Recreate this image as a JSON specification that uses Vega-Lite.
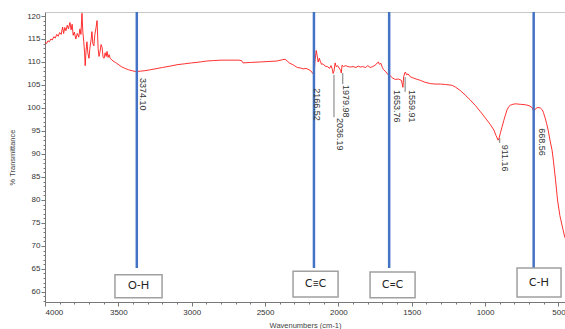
{
  "$schema": "https://vega.github.io/schema/vega-lite/v6.json",
  "width": 520,
  "height": 290,
  "autosize": {"type": "none"},
  "padding": {"left": 45, "top": 12, "right": 0, "bottom": 27},
  "background": "white",
  "config": {
    "view": {"stroke": "#c8c8c8", "strokeWidth": 1},
    "axis": {"labelFont": "Liberation Sans", "titleFont": "Liberation Sans", "labelColor": "#333", "titleColor": "#444", "domainColor": "#777", "tickColor": "#777", "grid": false}
  },
  "datasets": {
    "spectrum": [
      {"wn": 4000, "t": 114.3}, {"wn": 3990, "t": 114.0}, {"wn": 3980, "t": 114.6}, {"wn": 3970, "t": 114.4}, {"wn": 3960, "t": 115.0}, {"wn": 3950, "t": 114.8}, {"wn": 3940, "t": 115.5}, {"wn": 3930, "t": 115.2}, {"wn": 3920, "t": 116.0}, {"wn": 3910, "t": 115.6}, {"wn": 3900, "t": 116.4}, {"wn": 3890, "t": 116.0}, {"wn": 3880, "t": 117.6}, {"wn": 3873, "t": 116.2}, {"wn": 3865, "t": 117.5}, {"wn": 3857, "t": 116.8}, {"wn": 3848, "t": 118.0}, {"wn": 3840, "t": 117.2}, {"wn": 3830, "t": 118.6}, {"wn": 3822, "t": 117.0}, {"wn": 3815, "t": 118.2}, {"wn": 3808, "t": 115.8}, {"wn": 3800, "t": 116.5}, {"wn": 3790, "t": 115.0}, {"wn": 3780, "t": 116.2}, {"wn": 3770, "t": 115.4}, {"wn": 3762, "t": 117.2}, {"wn": 3755, "t": 116.0}, {"wn": 3748, "t": 120.6}, {"wn": 3742, "t": 116.5}, {"wn": 3736, "t": 114.5}, {"wn": 3730, "t": 112.0}, {"wn": 3726, "t": 109.2}, {"wn": 3720, "t": 112.5}, {"wn": 3714, "t": 114.4}, {"wn": 3708, "t": 112.0}, {"wn": 3700, "t": 110.8}, {"wn": 3694, "t": 113.0}, {"wn": 3686, "t": 114.8}, {"wn": 3680, "t": 116.6}, {"wn": 3674, "t": 114.0}, {"wn": 3667, "t": 113.5}, {"wn": 3660, "t": 116.0}, {"wn": 3652, "t": 117.5}, {"wn": 3645, "t": 119.0}, {"wn": 3638, "t": 113.0}, {"wn": 3632, "t": 111.2}, {"wn": 3625, "t": 112.2}, {"wn": 3618, "t": 113.8}, {"wn": 3611, "t": 113.2}, {"wn": 3604, "t": 111.0}, {"wn": 3597, "t": 110.8}, {"wn": 3590, "t": 112.0}, {"wn": 3583, "t": 111.2}, {"wn": 3577, "t": 112.3}, {"wn": 3570, "t": 111.0}, {"wn": 3563, "t": 111.6}, {"wn": 3556, "t": 110.8}, {"wn": 3545, "t": 110.5}, {"wn": 3536, "t": 110.2}, {"wn": 3520, "t": 109.9}, {"wn": 3502, "t": 109.5}, {"wn": 3480, "t": 109.0}, {"wn": 3454, "t": 108.6}, {"wn": 3430, "t": 108.3}, {"wn": 3406, "t": 108.1}, {"wn": 3380, "t": 107.9}, {"wn": 3350, "t": 108.0}, {"wn": 3320, "t": 108.1}, {"wn": 3283, "t": 108.3}, {"wn": 3250, "t": 108.5}, {"wn": 3200, "t": 108.8}, {"wn": 3147, "t": 109.1}, {"wn": 3100, "t": 109.4}, {"wn": 3050, "t": 109.6}, {"wn": 3000, "t": 109.8}, {"wn": 2942, "t": 110.0}, {"wn": 2900, "t": 110.2}, {"wn": 2850, "t": 110.3}, {"wn": 2800, "t": 110.4}, {"wn": 2738, "t": 110.4}, {"wn": 2680, "t": 110.4}, {"wn": 2660, "t": 110.3}, {"wn": 2650, "t": 109.8}, {"wn": 2600, "t": 109.9}, {"wn": 2533, "t": 110.0}, {"wn": 2480, "t": 110.1}, {"wn": 2420, "t": 110.2}, {"wn": 2380, "t": 110.5}, {"wn": 2363, "t": 110.6}, {"wn": 2345, "t": 110.1}, {"wn": 2330, "t": 109.7}, {"wn": 2315, "t": 109.5}, {"wn": 2300, "t": 109.2}, {"wn": 2280, "t": 108.8}, {"wn": 2260, "t": 108.7}, {"wn": 2240, "t": 108.5}, {"wn": 2220, "t": 108.6}, {"wn": 2200, "t": 108.3}, {"wn": 2185, "t": 108.0}, {"wn": 2175, "t": 107.5}, {"wn": 2166, "t": 107.2}, {"wn": 2160, "t": 110.0}, {"wn": 2151, "t": 112.5}, {"wn": 2145, "t": 111.5}, {"wn": 2138, "t": 110.0}, {"wn": 2130, "t": 110.8}, {"wn": 2124, "t": 110.2}, {"wn": 2115, "t": 109.5}, {"wn": 2105, "t": 109.6}, {"wn": 2090, "t": 109.1}, {"wn": 2075, "t": 109.0}, {"wn": 2060, "t": 108.6}, {"wn": 2050, "t": 109.2}, {"wn": 2040, "t": 108.3}, {"wn": 2036, "t": 107.5}, {"wn": 2030, "t": 108.0}, {"wn": 2022, "t": 109.8}, {"wn": 2015, "t": 109.0}, {"wn": 2005, "t": 109.2}, {"wn": 1995, "t": 108.7}, {"wn": 1985, "t": 108.2}, {"wn": 1980, "t": 107.6}, {"wn": 1975, "t": 109.3}, {"wn": 1965, "t": 109.0}, {"wn": 1950, "t": 109.2}, {"wn": 1935, "t": 109.0}, {"wn": 1919, "t": 108.9}, {"wn": 1900, "t": 109.0}, {"wn": 1880, "t": 108.8}, {"wn": 1865, "t": 109.1}, {"wn": 1851, "t": 108.9}, {"wn": 1835, "t": 109.0}, {"wn": 1815, "t": 108.8}, {"wn": 1800, "t": 109.2}, {"wn": 1783, "t": 108.8}, {"wn": 1765, "t": 109.0}, {"wn": 1745, "t": 109.4}, {"wn": 1735, "t": 109.8}, {"wn": 1728, "t": 110.0}, {"wn": 1720, "t": 109.5}, {"wn": 1710, "t": 109.7}, {"wn": 1700, "t": 108.8}, {"wn": 1694, "t": 108.4}, {"wn": 1680, "t": 108.0}, {"wn": 1670, "t": 107.6}, {"wn": 1660, "t": 107.2}, {"wn": 1646, "t": 107.0}, {"wn": 1630, "t": 106.5}, {"wn": 1612, "t": 106.2}, {"wn": 1590, "t": 106.3}, {"wn": 1570, "t": 106.0}, {"wn": 1560, "t": 104.5}, {"wn": 1555, "t": 106.8}, {"wn": 1548, "t": 107.6}, {"wn": 1543, "t": 107.8}, {"wn": 1535, "t": 107.2}, {"wn": 1525, "t": 107.4}, {"wn": 1510, "t": 106.8}, {"wn": 1496, "t": 106.6}, {"wn": 1470, "t": 106.3}, {"wn": 1441, "t": 106.0}, {"wn": 1410, "t": 105.6}, {"wn": 1373, "t": 105.3}, {"wn": 1340, "t": 105.2}, {"wn": 1305, "t": 105.2}, {"wn": 1270, "t": 105.1}, {"wn": 1240, "t": 105.0}, {"wn": 1223, "t": 104.9}, {"wn": 1200, "t": 104.5}, {"wn": 1169, "t": 103.8}, {"wn": 1135, "t": 102.8}, {"wn": 1100, "t": 101.7}, {"wn": 1065, "t": 100.5}, {"wn": 1032, "t": 99.2}, {"wn": 1000, "t": 97.9}, {"wn": 964, "t": 96.4}, {"wn": 940, "t": 95.2}, {"wn": 925, "t": 94.0}, {"wn": 911, "t": 93.0}, {"wn": 905, "t": 93.4}, {"wn": 895, "t": 94.6}, {"wn": 885, "t": 95.8}, {"wn": 872, "t": 97.3}, {"wn": 861, "t": 98.5}, {"wn": 850, "t": 99.6}, {"wn": 838, "t": 100.3}, {"wn": 827, "t": 100.6}, {"wn": 810, "t": 100.8}, {"wn": 793, "t": 100.9}, {"wn": 760, "t": 100.8}, {"wn": 725, "t": 100.7}, {"wn": 700, "t": 100.5}, {"wn": 680, "t": 100.1}, {"wn": 668, "t": 99.3}, {"wn": 660, "t": 99.6}, {"wn": 650, "t": 100.0}, {"wn": 640, "t": 100.1}, {"wn": 623, "t": 100.0}, {"wn": 610, "t": 99.6}, {"wn": 602, "t": 99.0}, {"wn": 590, "t": 97.8}, {"wn": 580, "t": 96.6}, {"wn": 570, "t": 95.2}, {"wn": 555, "t": 92.6}, {"wn": 543, "t": 90.8}, {"wn": 534, "t": 88.5}, {"wn": 520, "t": 84.5}, {"wn": 506, "t": 80.0}, {"wn": 490, "t": 76.6}, {"wn": 468, "t": 73.5}, {"wn": 456, "t": 71.8}
    ],
    "bands": [
      {"wn": 3374.10, "t": 120.87, "t2": 65.2},
      {"wn": 2166.52, "t": 120.87, "t2": 65.2},
      {"wn": 1653.76, "t": 120.87, "t2": 65.2},
      {"wn": 668.56, "t": 120.87, "t2": 65.2}
    ],
    "boxes": [
      {"wn": 3523, "wn2": 3202, "t": 63.7, "t2": 58.7},
      {"wn": 2309, "wn2": 2002, "t": 64.5, "t2": 58.9},
      {"wn": 1784, "wn2": 1477, "t": 64.3, "t2": 58.7},
      {"wn": 782, "wn2": 482, "t": 65.2, "t2": 58.9}
    ],
    "boxlabels": [
      {"name": "O-H", "wn": 3362, "t": 61.2},
      {"name": "C≡C", "wn": 2155, "t": 61.7},
      {"name": "C=C", "wn": 1630, "t": 61.5},
      {"name": "C-H", "wn": 632, "t": 62.0}
    ],
    "leaders": [
      {"wn": 2030, "t": 107.2, "t2": 98.0},
      {"wn": 1970, "t": 107.6, "t2": 105.2},
      {"wn": 1545, "t": 106.7, "t2": 103.5},
      {"wn": 900, "t": 93.4, "t2": 92.4}
    ],
    "peaks": [
      {"label": "3374.10", "wn": 3332, "t": 106.5},
      {"label": "2166.52", "wn": 2145, "t": 104.3},
      {"label": "2036.19", "wn": 1989, "t": 97.8},
      {"label": "1979.98", "wn": 1948, "t": 105.0},
      {"label": "1653.76", "wn": 1600, "t": 103.9},
      {"label": "1559.91", "wn": 1498, "t": 103.9},
      {"label": "911.16", "wn": 864, "t": 92.0},
      {"label": "668.56", "wn": 611, "t": 95.6}
    ]
  },
  "encoding": {
    "x": {
      "field": "wn", "type": "quantitative",
      "scale": {"domain": [455, 4000], "reverse": true, "nice": false, "zero": false},
      "axis": {
        "title": "Wavenumbers (cm-1)", "titleFontSize": 7.5, "titleFontWeight": "normal", "titlePadding": 5,
        "values": [500,600,700,800,900,1000,1100,1200,1300,1400,1500,1600,1700,1800,1900,2000,2100,2200,2300,2400,2500,2600,2700,2800,2900,3000,3100,3200,3300,3400,3500,3600,3700,3800,3900,4000],
        "labelExpr": "datum.value % 500 === 0 ? datum.label : ''",
        "format": "d", "labelFontSize": 8, "labelPadding": 2, "labelOverlap": false,
        "tickSize": {"condition": {"test": "datum.value % 500 === 0", "value": 4}, "value": 2}
      }
    },
    "y": {
      "field": "t", "type": "quantitative",
      "scale": {"domain": [57.8, 120.87], "nice": false, "zero": false},
      "axis": {
        "title": "% Transmittance", "titleFontSize": 7.5, "titleFontWeight": "normal", "titleX": -29,
        "values": [58,59,60,61,62,63,64,65,66,67,68,69,70,71,72,73,74,75,76,77,78,79,80,81,82,83,84,85,86,87,88,89,90,91,92,93,94,95,96,97,98,99,100,101,102,103,104,105,106,107,108,109,110,111,112,113,114,115,116,117,118,119,120],
        "labelExpr": "datum.value % 5 === 0 ? datum.label : ''",
        "labelFontSize": 8, "labelPadding": 1, "labelOverlap": false,
        "tickSize": {"condition": {"test": "datum.value % 5 === 0", "value": 4}, "value": 2}
      }
    }
  },
  "layer": [
    {
      "data": {"name": "spectrum"},
      "mark": {"type": "line", "color": "#ff1a1a", "strokeWidth": 0.9, "clip": true}
    },
    {
      "data": {"name": "bands"},
      "mark": {"type": "rule", "color": "#4472c4", "strokeWidth": 2.5},
      "encoding": {"y2": {"field": "t2"}}
    },
    {
      "data": {"name": "boxes"},
      "mark": {"type": "rect", "fill": "white", "stroke": "#a0a0a0", "strokeWidth": 1.5},
      "encoding": {"x2": {"field": "wn2"}, "y2": {"field": "t2"}}
    },
    {
      "data": {"name": "boxlabels"},
      "mark": {"type": "text", "font": "Lato", "fontSize": 11, "color": "#222", "align": "center", "baseline": "middle"},
      "encoding": {"text": {"field": "name"}}
    },
    {
      "data": {"name": "leaders"},
      "mark": {"type": "rule", "color": "#555", "strokeWidth": 0.8},
      "encoding": {"y2": {"field": "t2"}}
    },
    {
      "data": {"name": "peaks"},
      "mark": {"type": "text", "font": "Liberation Sans", "fontSize": 9, "color": "#333", "angle": 90, "align": "left", "baseline": "middle"},
      "encoding": {"text": {"field": "label"}}
    }
  ]
}
